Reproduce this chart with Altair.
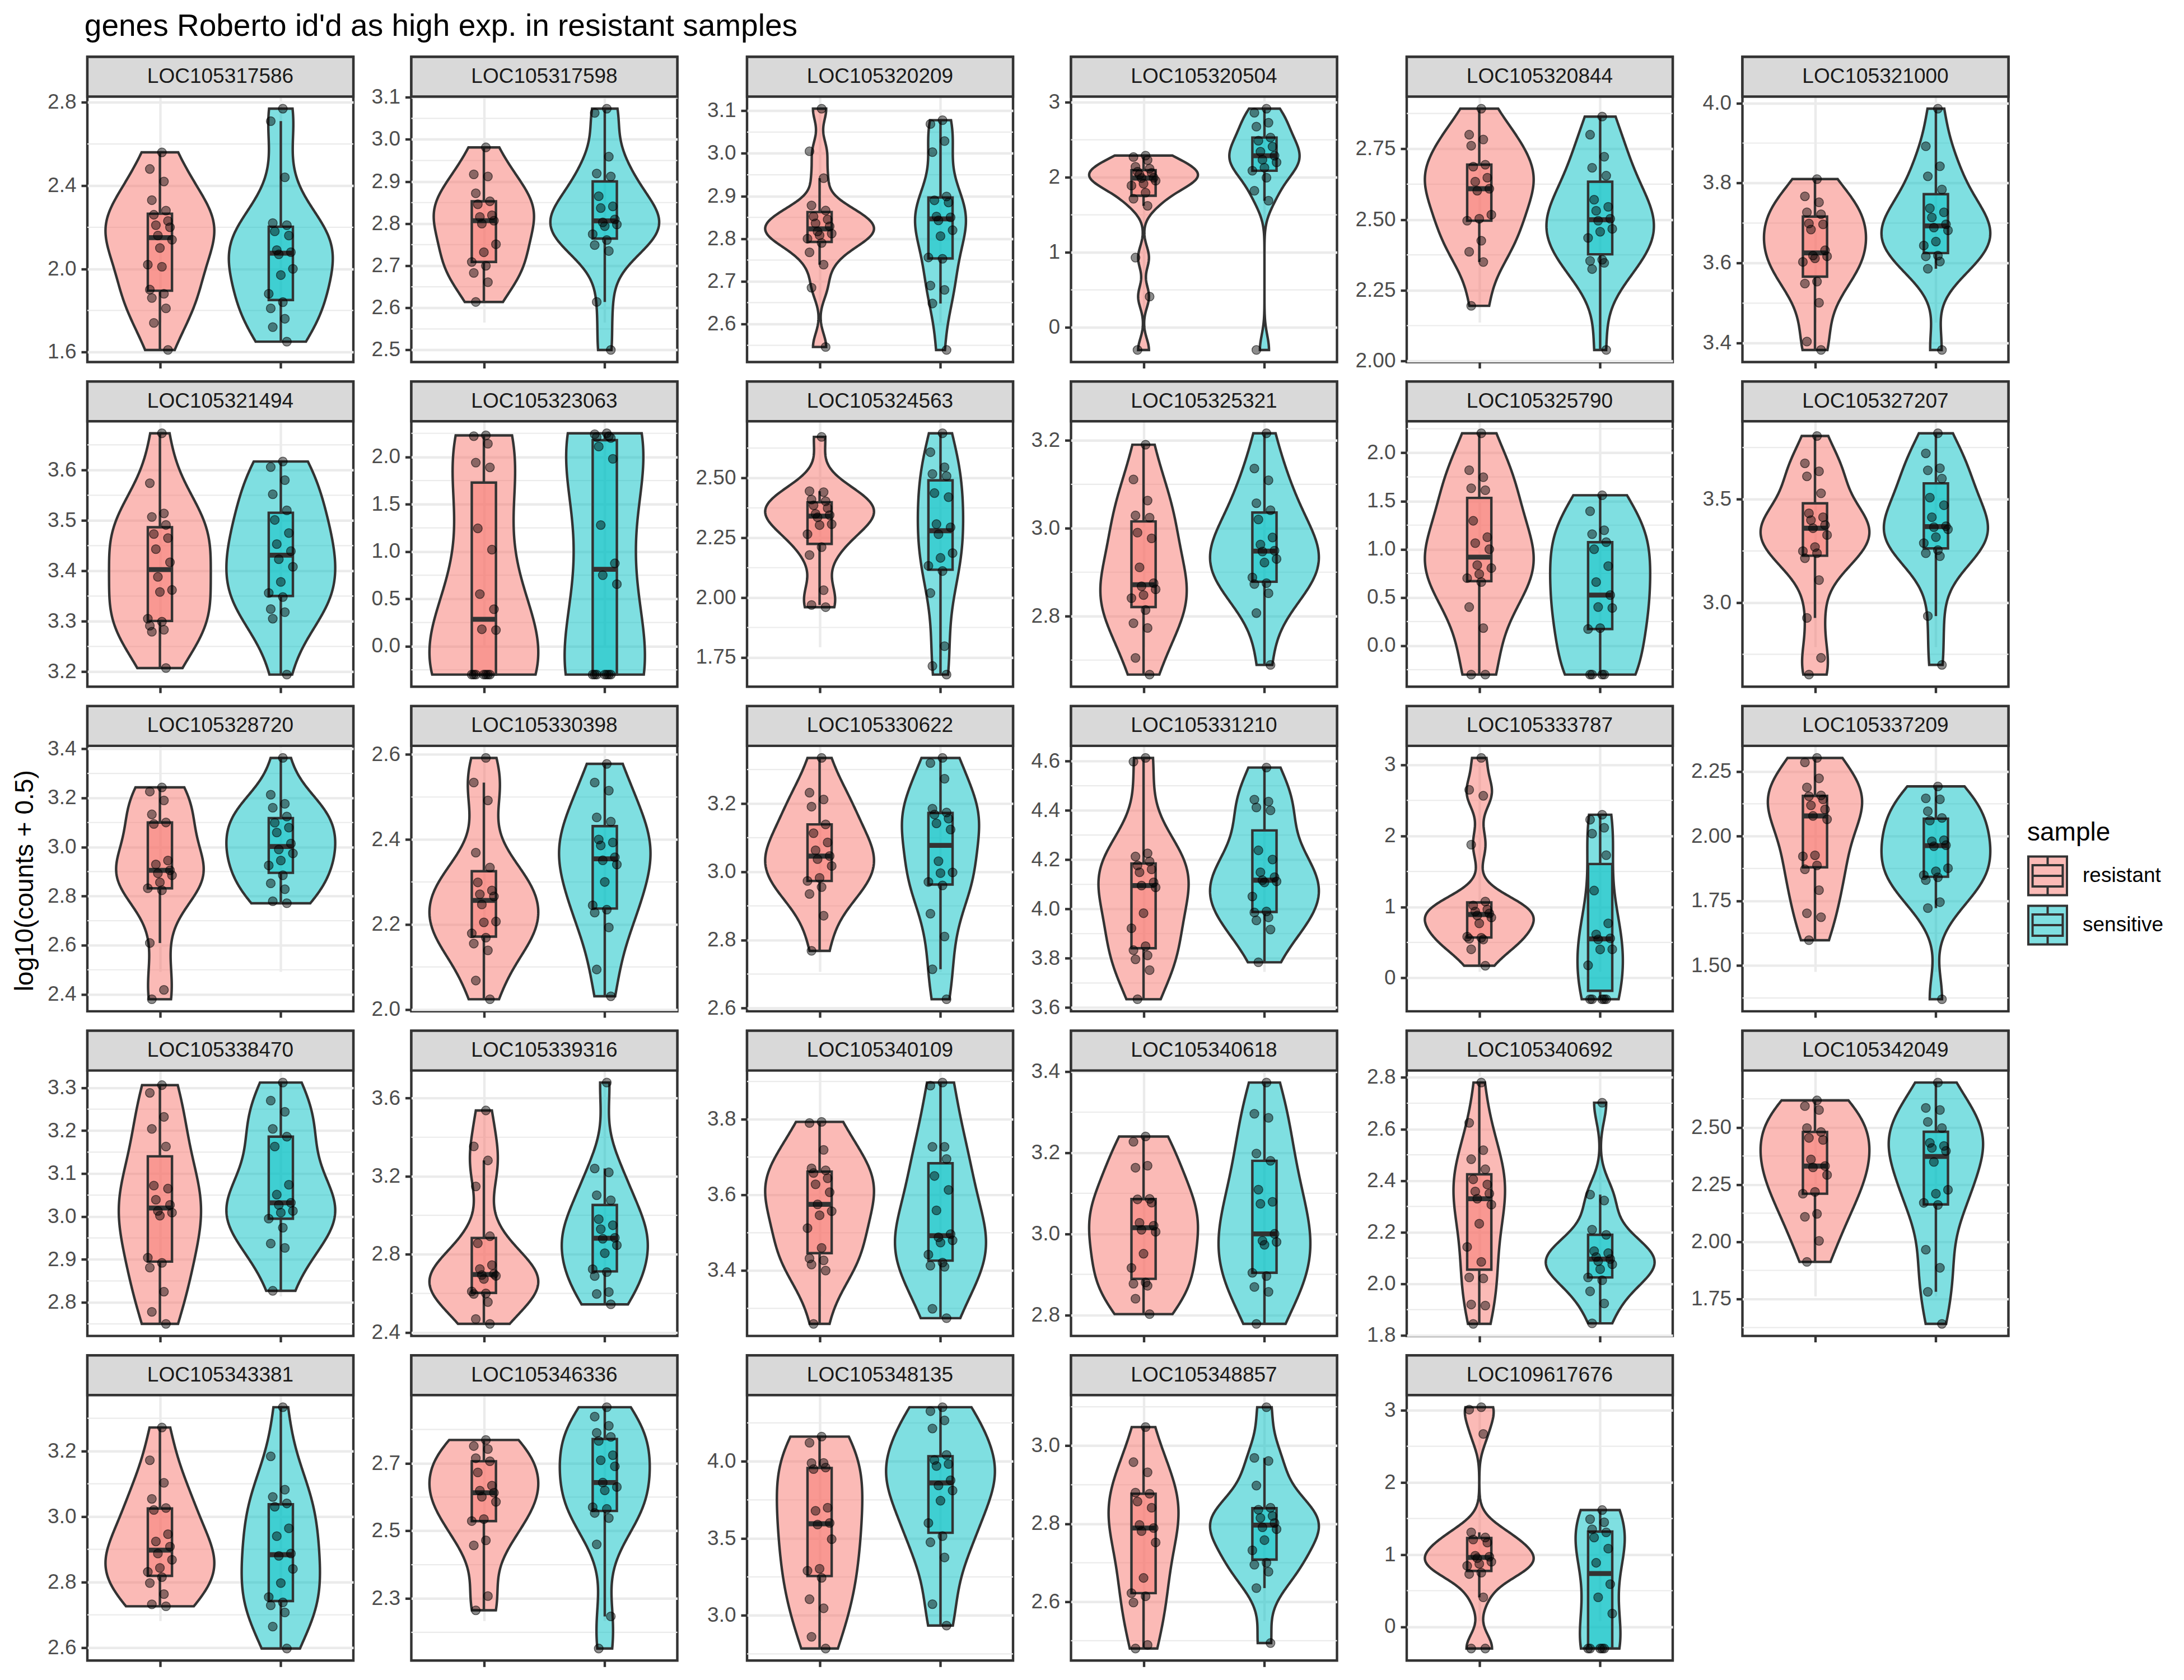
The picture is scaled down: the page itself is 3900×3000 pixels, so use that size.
import altair as alt
import pandas as pd

TITLE = "genes Roberto id'd as high exp. in resistant samples"
Y_TITLE = "log10(counts + 0.5)"
SAMPLES = ["resistant", "sensitive"]

# ---- values (log10(counts + 0.5)) ----
LOC105317586_resistant = [2.56, 2.48, 2.42, 2.33, 2.28, 2.26, 2.23, 2.21, 2.20, 2.16, 2.14, 2.10, 2.02, 2.01, 1.90, 1.88, 1.86, 1.81, 1.74, 1.61]
LOC105317586_sensitive = [2.77, 2.71, 2.44, 2.22, 2.21, 2.18, 2.16, 2.09, 2.08, 2.07, 2.00, 1.97, 1.88, 1.84, 1.81, 1.76, 1.72, 1.65]
LOC105317586_ticks = [1.6, 2.0, 2.4, 2.8]

LOC105317598_resistant = [2.981, 2.917, 2.912, 2.872, 2.853, 2.846, 2.82, 2.816, 2.807, 2.80, 2.751, 2.732, 2.709, 2.70, 2.683, 2.661, 2.614]
LOC105317598_sensitive = [3.073, 3.063, 2.959, 2.919, 2.912, 2.865, 2.841, 2.837, 2.81, 2.803, 2.798, 2.794, 2.775, 2.761, 2.749, 2.735, 2.614, 2.50]
LOC105317598_ticks = [2.5, 2.6, 2.7, 2.8, 2.9, 3.0, 3.1]

LOC105320209_resistant = [3.105, 3.005, 2.942, 2.878, 2.866, 2.852, 2.845, 2.836, 2.829, 2.817, 2.812, 2.808, 2.80, 2.79, 2.768, 2.739, 2.685, 2.546]
LOC105320209_sensitive = [3.078, 3.069, 3.029, 3.003, 2.899, 2.89, 2.885, 2.852, 2.85, 2.843, 2.82, 2.806, 2.756, 2.753, 2.69, 2.68, 2.648, 2.539]
LOC105320209_ticks = [2.6, 2.7, 2.8, 2.9, 3.0, 3.1]

LOC105320504_resistant = [2.29, 2.27, 2.23, 2.14, 2.115, 2.075, 2.06, 2.035, 1.995, 1.99, 1.955, 1.915, 1.89, 1.795, 1.715, 1.62, 0.93, 0.41, -0.301]
LOC105320504_sensitive = [2.915, 2.861, 2.728, 2.675, 2.53, 2.488, 2.408, 2.341, 2.288, 2.235, 2.20, 2.128, 2.088, 1.995, 1.821, 1.688, -0.301]
LOC105320504_ticks = [0, 1, 2, 3]

LOC105320844_resistant = [2.892, 2.80, 2.783, 2.761, 2.694, 2.687, 2.648, 2.634, 2.609, 2.602, 2.517, 2.503, 2.496, 2.425, 2.386, 2.35, 2.195]
LOC105320844_sensitive = [2.864, 2.80, 2.722, 2.683, 2.655, 2.57, 2.545, 2.531, 2.503, 2.496, 2.467, 2.457, 2.435, 2.358, 2.354, 2.347, 2.325, 2.039]
LOC105320844_ticks = [2.0, 2.25, 2.5, 2.75]

LOC105321000_resistant = [3.81, 3.767, 3.752, 3.727, 3.722, 3.699, 3.697, 3.684, 3.632, 3.619, 3.617, 3.612, 3.603, 3.554, 3.549, 3.501, 3.404, 3.383]
LOC105321000_sensitive = [3.986, 3.892, 3.842, 3.817, 3.784, 3.737, 3.727, 3.714, 3.697, 3.689, 3.682, 3.654, 3.644, 3.619, 3.617, 3.604, 3.586, 3.383]
LOC105321000_ticks = [3.4, 3.6, 3.8, 4.0]

LOC105321494_resistant = [3.673, 3.574, 3.514, 3.507, 3.491, 3.473, 3.465, 3.443, 3.417, 3.388, 3.362, 3.358, 3.305, 3.299, 3.291, 3.283, 3.279, 3.207]
LOC105321494_sensitive = [3.617, 3.606, 3.58, 3.552, 3.52, 3.501, 3.475, 3.453, 3.439, 3.423, 3.408, 3.378, 3.356, 3.348, 3.324, 3.318, 3.305, 3.194]
LOC105321494_ticks = [3.2, 3.3, 3.4, 3.5, 3.6]

LOC105323063_resistant = [2.228, 2.22, 2.14, 1.94, 1.89, 1.245, 1.02, 0.55, 0.39, 0.178, 0.17, -0.301, -0.301, -0.301, -0.301, -0.301, -0.301, -0.301]
LOC105323063_sensitive = [2.25, 2.24, 2.22, 2.21, 2.20, 2.11, 1.98, 1.28, 0.875, 0.75, 0.655, -0.301, -0.301, -0.301, -0.301, -0.301, -0.301, -0.301]
LOC105323063_ticks = [0.0, 0.5, 1.0, 1.5, 2.0]

LOC105324563_resistant = [2.672, 2.445, 2.441, 2.41, 2.403, 2.386, 2.374, 2.35, 2.345, 2.336, 2.307, 2.303, 2.265, 2.211, 2.178, 2.031, 1.969, 1.96]
LOC105324563_sensitive = [2.687, 2.608, 2.545, 2.517, 2.508, 2.437, 2.42, 2.307, 2.294, 2.265, 2.186, 2.166, 2.133, 2.111, 2.019, 1.797, 1.714, 1.678]
LOC105324563_ticks = [1.75, 2.0, 2.25, 2.5]

LOC105325321_resistant = [3.19, 3.111, 3.063, 3.029, 3.024, 2.99, 2.977, 2.911, 2.875, 2.868, 2.861, 2.848, 2.841, 2.814, 2.784, 2.773, 2.705, 2.667]
LOC105325321_sensitive = [3.216, 3.136, 3.109, 3.057, 3.041, 3.02, 2.979, 2.963, 2.949, 2.947, 2.93, 2.922, 2.888, 2.875, 2.873, 2.852, 2.807, 2.689]
LOC105325321_ticks = [2.8, 3.0, 3.2]

LOC105325790_resistant = [2.203, 1.82, 1.747, 1.633, 1.612, 1.295, 1.125, 1.063, 1.0, 0.835, 0.804, 0.742, 0.70, 0.659, 0.40, 0.182, -0.301, -0.301]
LOC105325790_sensitive = [1.56, 1.394, 1.197, 1.156, 1.073, 1.0, 0.825, 0.659, 0.524, 0.40, 0.39, 0.182, 0.172, -0.301, -0.301, -0.301, -0.301]
LOC105325790_ticks = [0.0, 0.5, 1.0, 1.5, 2.0]

LOC105327207_resistant = [3.806, 3.674, 3.635, 3.611, 3.529, 3.432, 3.413, 3.399, 3.375, 3.36, 3.327, 3.269, 3.249, 3.239, 3.215, 3.109, 2.926, 2.733, 2.652]
LOC105327207_sensitive = [3.819, 3.722, 3.65, 3.64, 3.60, 3.508, 3.471, 3.413, 3.37, 3.365, 3.355, 3.317, 3.288, 3.254, 3.239, 3.225, 2.935, 2.699]
LOC105327207_ticks = [3.0, 3.5]

LOC105328720_resistant = [3.243, 3.226, 3.19, 3.133, 3.10, 3.094, 2.945, 2.929, 2.905, 2.893, 2.885, 2.856, 2.832, 2.824, 2.609, 2.418, 2.38]
LOC105328720_sensitive = [3.363, 3.213, 3.176, 3.16, 3.124, 3.099, 3.079, 3.059, 3.014, 2.99, 2.974, 2.945, 2.925, 2.885, 2.852, 2.828, 2.779, 2.771]
LOC105328720_ticks = [2.4, 2.6, 2.8, 3.0, 3.2, 3.4]

LOC105330398_resistant = [2.592, 2.534, 2.492, 2.369, 2.334, 2.299, 2.28, 2.271, 2.266, 2.247, 2.207, 2.205, 2.179, 2.169, 2.155, 2.139, 2.068, 2.024]
LOC105330398_sensitive = [2.578, 2.534, 2.515, 2.452, 2.442, 2.40, 2.393, 2.386, 2.358, 2.351, 2.341, 2.30, 2.245, 2.235, 2.228, 2.193, 2.094, 2.031]
LOC105330398_ticks = [2.0, 2.2, 2.4, 2.6]

LOC105330622_resistant = [3.334, 3.232, 3.212, 3.191, 3.139, 3.113, 3.086, 3.063, 3.046, 3.037, 3.017, 2.982, 2.973, 2.955, 2.935, 2.871, 2.768]
LOC105330622_sensitive = [3.334, 3.319, 3.273, 3.185, 3.174, 3.168, 3.156, 3.142, 3.124, 3.031, 2.998, 2.996, 2.97, 2.96, 2.877, 2.81, 2.714, 2.626]
LOC105330622_ticks = [2.6, 2.8, 3.0, 3.2]

LOC105331210_resistant = [4.613, 4.598, 4.226, 4.213, 4.193, 4.177, 4.161, 4.149, 4.108, 4.095, 4.088, 3.983, 3.922, 3.849, 3.833, 3.812, 3.796, 3.752, 3.634]
LOC105331210_sensitive = [4.574, 4.444, 4.436, 4.412, 4.40, 4.238, 4.201, 4.149, 4.129, 4.117, 4.112, 4.108, 4.051, 3.99, 3.986, 3.966, 3.954, 3.917, 3.784]
LOC105331210_ticks = [3.6, 3.8, 4.0, 4.2, 4.4, 4.6]

LOC105333787_resistant = [3.098, 2.649, 2.565, 1.876, 1.076, 1.02, 0.963, 0.935, 0.907, 0.879, 0.851, 0.767, 0.58, 0.565, 0.55, 0.54, 0.402, 0.171]
LOC105333787_sensitive = [2.298, 2.228, 2.115, 2.031, 1.728, 1.23, 0.767, 0.612, 0.556, 0.542, 0.402, 0.40, 0.177, -0.301, -0.301, -0.301, -0.301, -0.301]
LOC105333787_ticks = [0, 1, 2, 3]

LOC105337209_resistant = [2.302, 2.285, 2.223, 2.188, 2.157, 2.154, 2.142, 2.119, 2.103, 2.078, 2.065, 1.926, 1.922, 1.887, 1.872, 1.791, 1.702, 1.687, 1.598]
LOC105337209_sensitive = [2.192, 2.146, 2.142, 2.096, 2.07, 2.06, 1.984, 1.98, 1.965, 1.961, 1.876, 1.864, 1.849, 1.841, 1.83, 1.745, 1.722, 1.37]
LOC105337209_ticks = [1.5, 1.75, 2.0, 2.25]

LOC105338470_resistant = [3.306, 3.288, 3.232, 3.204, 3.163, 3.072, 3.065, 3.039, 3.027, 3.013, 3.009, 3.002, 2.904, 2.892, 2.881, 2.825, 2.778, 2.75]
LOC105338470_sensitive = [3.312, 3.27, 3.244, 3.204, 3.186, 3.163, 3.074, 3.051, 3.032, 3.027, 3.013, 3.009, 2.995, 2.974, 2.937, 2.927, 2.827]
LOC105338470_ticks = [2.8, 2.9, 3.0, 3.1, 3.2, 3.3]

LOC105339316_resistant = [3.537, 3.353, 3.281, 3.148, 2.893, 2.857, 2.745, 2.725, 2.70, 2.694, 2.69, 2.674, 2.61, 2.60, 2.597, 2.556, 2.469, 2.444]
LOC105339316_sensitive = [3.68, 3.24, 3.22, 3.103, 3.077, 2.98, 2.949, 2.929, 2.885, 2.88, 2.847, 2.806, 2.724, 2.709, 2.689, 2.607, 2.597, 2.544]
LOC105339316_ticks = [2.4, 2.8, 3.2, 3.6]

LOC105340109_resistant = [3.793, 3.79, 3.719, 3.67, 3.665, 3.658, 3.644, 3.628, 3.607, 3.575, 3.557, 3.546, 3.512, 3.46, 3.432, 3.427, 3.416, 3.40, 3.259]
LOC105340109_sensitive = [3.897, 3.889, 3.727, 3.727, 3.695, 3.65, 3.613, 3.559, 3.496, 3.488, 3.48, 3.474, 3.442, 3.421, 3.413, 3.41, 3.299, 3.274]
LOC105340109_ticks = [3.4, 3.6, 3.8]

LOC105340618_resistant = [3.24, 3.227, 3.168, 3.163, 3.086, 3.085, 3.077, 3.027, 3.02, 3.01, 3.005, 2.951, 2.916, 2.88, 2.877, 2.872, 2.84, 2.802]
LOC105340618_sensitive = [3.373, 3.296, 3.286, 3.198, 3.18, 3.109, 3.079, 3.074, 3.0, 2.983, 2.98, 2.973, 2.904, 2.896, 2.869, 2.857, 2.778]
LOC105340618_ticks = [2.8, 3.0, 3.2, 3.4]

LOC105340692_resistant = [2.78, 2.624, 2.518, 2.483, 2.444, 2.405, 2.385, 2.358, 2.35, 2.33, 2.307, 2.233, 2.143, 2.085, 2.025, 2.021, 1.92, 1.916, 1.845]
LOC105340692_sensitive = [2.702, 2.346, 2.323, 2.21, 2.19, 2.127, 2.119, 2.104, 2.096, 2.088, 2.076, 2.057, 2.025, 2.014, 1.971, 1.924, 1.847]
LOC105340692_ticks = [1.8, 2.0, 2.2, 2.4, 2.6, 2.8]

LOC105342049_resistant = [2.618, 2.593, 2.576, 2.497, 2.48, 2.454, 2.445, 2.36, 2.331, 2.325, 2.292, 2.218, 2.21, 2.122, 2.109, 2.004, 1.912]
LOC105342049_sensitive = [2.696, 2.585, 2.576, 2.524, 2.497, 2.432, 2.419, 2.41, 2.397, 2.349, 2.227, 2.21, 2.17, 2.161, 1.965, 1.886, 1.781, 1.641]
LOC105342049_ticks = [1.75, 2.0, 2.25, 2.5]

LOC105343381_resistant = [3.272, 3.172, 3.103, 3.054, 3.026, 3.02, 2.946, 2.924, 2.908, 2.887, 2.868, 2.843, 2.831, 2.815, 2.797, 2.763, 2.732, 2.726]
LOC105343381_sensitive = [3.334, 3.184, 3.082, 3.06, 3.04, 3.03, 2.964, 2.94, 2.887, 2.88, 2.84, 2.797, 2.754, 2.738, 2.729, 2.707, 2.664, 2.597]
LOC105343381_ticks = [2.6, 2.8, 3.0, 3.2]

LOC105346336_resistant = [2.769, 2.751, 2.742, 2.715, 2.706, 2.673, 2.634, 2.619, 2.613, 2.601, 2.586, 2.535, 2.529, 2.472, 2.457, 2.307, 2.265]
LOC105346336_sensitive = [2.866, 2.838, 2.811, 2.79, 2.778, 2.766, 2.724, 2.709, 2.691, 2.643, 2.63, 2.62, 2.57, 2.565, 2.553, 2.538, 2.46, 2.247, 2.152]
LOC105346336_ticks = [2.3, 2.5, 2.7]

LOC105348135_resistant = [4.161, 4.121, 3.99, 3.989, 3.96, 3.95, 3.699, 3.679, 3.60, 3.59, 3.495, 3.303, 3.29, 3.244, 3.105, 3.046, 2.861, 2.785]
LOC105348135_sensitive = [4.352, 4.326, 4.266, 4.214, 4.042, 4.009, 3.983, 3.97, 3.877, 3.844, 3.811, 3.745, 3.60, 3.515, 3.475, 3.376, 3.073, 2.934]
LOC105348135_ticks = [3.0, 3.5, 4.0]

LOC105348857_resistant = [3.048, 2.958, 2.932, 2.88, 2.877, 2.857, 2.841, 2.797, 2.789, 2.781, 2.752, 2.661, 2.622, 2.614, 2.598, 2.489, 2.48]
LOC105348857_sensitive = [3.099, 2.969, 2.961, 2.898, 2.841, 2.836, 2.82, 2.815, 2.802, 2.791, 2.786, 2.758, 2.732, 2.70, 2.695, 2.677, 2.635, 2.494]
LOC105348857_ticks = [2.6, 2.8, 3.0]

LOC109617676_resistant = [3.042, 3.008, 2.671, 1.308, 1.237, 1.209, 1.167, 0.984, 0.97, 0.95, 0.90, 0.872, 0.844, 0.75, 0.731, 0.408, -0.301, -0.301]
LOC109617676_sensitive = [1.617, 1.49, 1.448, 1.35, 1.308, 1.237, 1.083, 0.886, 0.59, 0.408, 0.183, -0.301, -0.301, -0.301, -0.301, -0.301]
LOC109617676_ticks = [0, 1, 2, 3]

PANELS = [
    ("LOC105317586", LOC105317586_resistant, LOC105317586_sensitive, LOC105317586_ticks),
    ("LOC105317598", LOC105317598_resistant, LOC105317598_sensitive, LOC105317598_ticks),
    ("LOC105320209", LOC105320209_resistant, LOC105320209_sensitive, LOC105320209_ticks),
    ("LOC105320504", LOC105320504_resistant, LOC105320504_sensitive, LOC105320504_ticks),
    ("LOC105320844", LOC105320844_resistant, LOC105320844_sensitive, LOC105320844_ticks),
    ("LOC105321000", LOC105321000_resistant, LOC105321000_sensitive, LOC105321000_ticks),
    ("LOC105321494", LOC105321494_resistant, LOC105321494_sensitive, LOC105321494_ticks),
    ("LOC105323063", LOC105323063_resistant, LOC105323063_sensitive, LOC105323063_ticks),
    ("LOC105324563", LOC105324563_resistant, LOC105324563_sensitive, LOC105324563_ticks),
    ("LOC105325321", LOC105325321_resistant, LOC105325321_sensitive, LOC105325321_ticks),
    ("LOC105325790", LOC105325790_resistant, LOC105325790_sensitive, LOC105325790_ticks),
    ("LOC105327207", LOC105327207_resistant, LOC105327207_sensitive, LOC105327207_ticks),
    ("LOC105328720", LOC105328720_resistant, LOC105328720_sensitive, LOC105328720_ticks),
    ("LOC105330398", LOC105330398_resistant, LOC105330398_sensitive, LOC105330398_ticks),
    ("LOC105330622", LOC105330622_resistant, LOC105330622_sensitive, LOC105330622_ticks),
    ("LOC105331210", LOC105331210_resistant, LOC105331210_sensitive, LOC105331210_ticks),
    ("LOC105333787", LOC105333787_resistant, LOC105333787_sensitive, LOC105333787_ticks),
    ("LOC105337209", LOC105337209_resistant, LOC105337209_sensitive, LOC105337209_ticks),
    ("LOC105338470", LOC105338470_resistant, LOC105338470_sensitive, LOC105338470_ticks),
    ("LOC105339316", LOC105339316_resistant, LOC105339316_sensitive, LOC105339316_ticks),
    ("LOC105340109", LOC105340109_resistant, LOC105340109_sensitive, LOC105340109_ticks),
    ("LOC105340618", LOC105340618_resistant, LOC105340618_sensitive, LOC105340618_ticks),
    ("LOC105340692", LOC105340692_resistant, LOC105340692_sensitive, LOC105340692_ticks),
    ("LOC105342049", LOC105342049_resistant, LOC105342049_sensitive, LOC105342049_ticks),
    ("LOC105343381", LOC105343381_resistant, LOC105343381_sensitive, LOC105343381_ticks),
    ("LOC105346336", LOC105346336_resistant, LOC105346336_sensitive, LOC105346336_ticks),
    ("LOC105348135", LOC105348135_resistant, LOC105348135_sensitive, LOC105348135_ticks),
    ("LOC105348857", LOC105348857_resistant, LOC105348857_sensitive, LOC105348857_ticks),
    ("LOC109617676", LOC109617676_resistant, LOC109617676_sensitive, LOC109617676_ticks),
]

# ---- layout / style ----
W, STRIP, PH = 475, 71, 474
H = STRIP + PH
NARROW, WIDE = 73, 94
COL_EXTENT = [NARROW, NARROW, WIDE, NARROW, WIDE, WIDE]
X_EXTENT = 25
LW = 4.4
DARK = "#333333"
GRID = "#EBEBEB"
FONT = "Liberation Sans"
FILLS = ["rgba(248,118,109,0.5)", "rgba(0,191,196,0.5)"]
POS = "datum.sample === 'resistant' ? 1 : 2"
KEY = ("M-1,-1H1V1H-1Z M-0.78,-0.55H0.78V0.55H-0.78Z "
       "M-0.78,0H0.78 M0,-1V-0.55 M0,0.55V1")

fill_scale = alt.Scale(domain=SAMPLES, range=FILLS)
LEGEND = alt.Legend(
    title="sample", orient="none", legendX=3464, legendY=1363,
    titleFont=FONT, titleFontSize=46, titleFontWeight="normal", titleColor="black",
    labelFont=FONT, labelFontSize=37, labelColor="black",
    symbolType=KEY, symbolSize=4761, symbolStrokeColor=DARK, symbolStrokeWidth=4,
    rowPadding=3, labelOffset=26, titlePadding=17,
)


def tick_format(ticks):
    if any(abs(t * 10 - round(t * 10)) > 1e-6 for t in ticks):
        return ".2f"
    if any(abs(t - round(t)) > 1e-6 for t in ticks):
        return ".1f"
    if all(isinstance(t, int) for t in ticks):
        return ".0f"
    return ".1f"


def make_panel(gene, res, sen, ticks, extent):
    df = pd.DataFrame({
        "gene": gene,
        "sample": ["resistant"] * len(res) + ["sensitive"] * len(sen),
        "value": list(res) + list(sen),
    })
    lo = min(min(res), min(sen))
    hi = max(max(res), max(sen))
    pad = 0.05 * (hi - lo)
    d0, d1 = lo - pad, hi + pad
    ys = alt.Scale(domain=[d0, d1], range=[H, STRIP], nice=False, zero=False)
    ya = alt.Axis(values=ticks, format=tick_format(ticks), title=None, grid=True,
                  gridColor=GRID, gridWidth=LW, minExtent=extent, maxExtent=extent,
                  labelFlush=False, labelOverlap=False, domain=False)
    xs = alt.Scale(domain=[0.4, 2.6], nice=False, zero=False)
    xa = alt.Axis(values=[1, 2], labels=False, title=None, grid=True,
                  gridColor=GRID, gridWidth=LW, domain=False,
                  minExtent=X_EXTENT, maxExtent=X_EXTENT)
    step = ticks[1] - ticks[0]
    minors = [ticks[0] - step / 2] + [t + step / 2 for t in ticks]
    minors = [m for m in minors if d0 <= m <= d1]

    base = alt.Chart(df)
    fill = alt.Fill("sample:N", scale=fill_scale, legend=LEGEND)

    minor = alt.Chart(pd.DataFrame({"m": minors})).mark_rule(
        color=GRID, strokeWidth=LW / 2
    ).encode(y=alt.Y("m:Q", scale=ys, axis=ya))

    violin = base.transform_density(
        "value", groupby=["sample"], as_=["v", "dens"], steps=200,
        resolve="independent",
    ).transform_joinaggregate(maxd="max(dens)").transform_calculate(
        pos=POS
    ).transform_calculate(
        xl="datum.pos - 0.45 * datum.dens / datum.maxd",
        xr="datum.pos + 0.45 * datum.dens / datum.maxd",
    ).mark_area(orient="horizontal", stroke=DARK, strokeWidth=LW).encode(
        y=alt.Y("v:Q", scale=ys, axis=ya),
        x=alt.X("xl:Q", scale=xs, axis=xa),
        x2="xr:Q",
        fill=fill,
    )

    stats = base.transform_joinaggregate(
        q1="q1(value)", q3="q3(value)", med="median(value)", groupby=["sample"]
    ).transform_calculate(
        lof="datum.q1 - 1.5 * (datum.q3 - datum.q1)",
        hif="datum.q3 + 1.5 * (datum.q3 - datum.q1)",
    ).transform_filter(
        "datum.value >= datum.lof && datum.value <= datum.hif"
    ).transform_aggregate(
        wlo="min(value)", whi="max(value)", groupby=["sample", "q1", "q3", "med"]
    ).transform_calculate(pos=POS).transform_calculate(
        bl="datum.pos - 0.1", br="datum.pos + 0.1"
    )

    whisk_hi = stats.mark_rule(color=DARK, strokeWidth=LW).encode(
        x=alt.X("pos:Q", scale=xs, axis=xa),
        y=alt.Y("q3:Q", scale=ys, axis=ya), y2="whi:Q")
    whisk_lo = stats.mark_rule(color=DARK, strokeWidth=LW).encode(
        x=alt.X("pos:Q", scale=xs, axis=xa),
        y=alt.Y("q1:Q", scale=ys, axis=ya), y2="wlo:Q")
    box = stats.mark_rect(stroke=DARK, strokeWidth=LW).encode(
        x=alt.X("bl:Q", scale=xs, axis=xa), x2="br:Q",
        y=alt.Y("q1:Q", scale=ys, axis=ya), y2="q3:Q",
        fill=fill)
    median = stats.mark_rule(color=DARK, strokeWidth=2 * LW).encode(
        x=alt.X("bl:Q", scale=xs, axis=xa), x2="br:Q",
        y=alt.Y("med:Q", scale=ys, axis=ya))

    points = base.transform_window(
        rn="row_number()", groupby=["sample"]
    ).transform_calculate(pos=POS).transform_calculate(
        jx="datum.pos + 0.2 * (((datum.rn * 7) % 13) / 12 - 0.5)"
    ).mark_circle(size=250, color="black", fillOpacity=0.45,
                  stroke="black", strokeOpacity=0.55, strokeWidth=1.5).encode(
        x=alt.X("jx:Q", scale=xs, axis=xa),
        y=alt.Y("value:Q", scale=ys, axis=ya))

    strip_base = base.transform_aggregate(n="count()", groupby=["gene"])
    strip_rect = strip_base.mark_rect(fill="#D9D9D9", stroke=DARK, strokeWidth=LW).encode(
        x=alt.value(0), x2=alt.value(W), y=alt.value(0), y2=alt.value(STRIP))
    strip_text = strip_base.mark_text(font=FONT, fontSize=37, color="#1A1A1A",
                                      baseline="middle", align="center").encode(
        x=alt.value(W / 2), y=alt.value(STRIP / 2), text="gene:N")

    return alt.layer(minor, violin, whisk_hi, whisk_lo, box, median, points,
                     strip_rect, strip_text).properties(width=W, height=H)


rows = []
for r in range(5):
    items = PANELS[r * 6:(r + 1) * 6]
    charts = [make_panel(g, a, b, t, COL_EXTENT[c]) for c, (g, a, b, t) in enumerate(items)]
    rows.append(alt.hconcat(*charts, spacing=22.5).resolve_scale(
        x="independent", y="independent", fill="shared"))

grid = alt.vconcat(*rows, spacing=1.7).resolve_scale(
    x="independent", y="independent", fill="shared"
).properties(title=alt.TitleParams(Y_TITLE, orient="left", anchor="middle",
                                   fontSize=46, offset=12, dx=-28))

chart = alt.vconcat(grid, spacing=0).resolve_scale(fill="shared").properties(
    title=alt.TitleParams(TITLE, anchor="start", fontSize=55, offset=21.3, dx=129),
    padding={"left": 21, "top": 19.5, "right": 5, "bottom": 5},
).configure(font=FONT).configure_view(
    stroke=DARK, strokeWidth=LW
).configure_axis(
    labelFont=FONT, labelFontSize=37, labelColor="#4D4D4D", labelPadding=9,
    tickColor=DARK, tickWidth=LW, tickSize=11, domain=False,
).configure_title(font=FONT, fontWeight="normal", color="black")

chart.save("out.html", embed_options={"renderer": "svg", "actions": False})
